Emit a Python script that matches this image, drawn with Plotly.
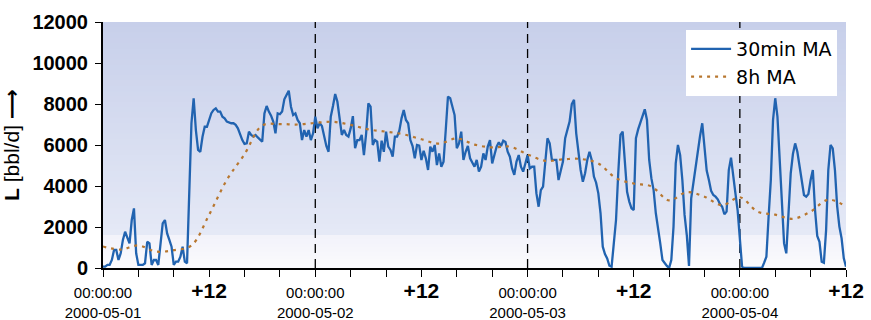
import plotly.graph_objects as go
import pandas as pd

# ---- data ----
start = "2000-05-01 00:00"
# 30 min moving average, sampled every 15 min from 2000-05-01 00:00 to 2000-05-04 12:00
ma30 = [
    65, 65, 150, 150, 390, 880, 880, 390,            # 0h
    715, 1370, 1770, 1530, 1200, 2340, 2910, 715,    # 2h
    150, 150, 150, 230, 1280, 1200, 150, 390,        # 4h
    390, 150, 1200, 2180, 2340, 1690, 1370, 1040,    # 6h
    150, 310, 310, 550, 1040, 310, 230, 3800,        # 8h
    7060, 8280, 6730, 5760, 5670, 6400, 6890, 6890,  # 10h
    7220, 7550, 7710, 7790, 7630, 7630, 7380, 7300,  # 12h
    7140, 7090, 7060, 7060, 6980, 6810, 6490, 6240,  # 14h
    6050, 6080, 6650, 6490, 6410, 6490, 6370, 6280,  # 16h
    6160, 7540, 7900, 7630, 7430, 7140, 6570, 7540,  # 18h
    7500, 7630, 8230, 8440, 8650, 7870, 7460, 7540,  # 20h
    7220, 7060, 6240, 6730, 6410, 6730, 6240, 6570,  # 22h
    7380, 6810, 7060, 6930, 6410, 5950, 5670, 7380,  # 24h
    7900, 8490, 8110, 7380, 6490, 6730, 6490, 6410,  # 26h
    6810, 7410, 5840, 6240, 6240, 6490, 5510, 6570,  # 28h
    8030, 7870, 6000, 6240, 6160, 5190, 6210, 5670,  # 30h
    6650, 5920, 5760, 5430, 6410, 6410, 6700, 7300,  # 32h
    7710, 7220, 7060, 6240, 5950, 5350, 6000, 5970,  # 34h
    5270, 5720, 5350, 4780, 5920, 5670, 6000, 5020,  # 36h
    5590, 4940, 5190, 6730, 8360, 8280, 7870, 7460,  # 38h
    5840, 6080, 6650, 5270, 5670, 5950, 5350, 5100,  # 40h
    4940, 5270, 4700, 4940, 5590, 5270, 5920, 6240,  # 42h
    5100, 5510, 5920, 6130, 5950, 6210, 6150, 5670,  # 44h
    5430, 4860, 4540, 5190, 5510, 4940, 4700, 5100,  # 46h
    5510, 4860, 4940, 4940, 3640, 2990, 3800, 3970,  # 48h
    5270, 6330, 6080, 5270, 5270, 5270, 4290, 4780,  # 50h
    5190, 6330, 6810, 7140, 8000, 8200, 6570, 5510,  # 52h
    4780, 4210, 4620, 5270, 5670, 5270, 4460, 4160,  # 54h
    3640, 2670, 1040, 680, 470, 110, 65, 1200,       # 56h
    2340, 4620, 6490, 6650, 4940, 3720, 3240, 2910,  # 58h
    2830, 6330, 6760, 7060, 7350, 7740, 7220, 5270,  # 60h
    4370, 3800, 2670, 2020, 1200, 390, 230, 100,     # 62h
    0, 390, 2020, 5100, 6000, 5510, 4290, 2590,      # 64h
    1610, 100, 3400, 4210, 4980, 5630, 6440, 7060,   # 66h
    5670, 4750, 4290, 3760, 3560, 3480, 3350, 3120,  # 68h
    2990, 2620, 2750, 4780, 5380, 4620, 3640, 2800,  # 70h
    1370, 65, 0, 0, 0, 0, 0, 0,                      # 72h
    0, 0, 0, 260, 550, 2500, 4290, 7220,             # 74h
    8280, 7380, 5510, 3320, 1200, 715, 2500, 4620,   # 76h
    5560, 6080, 5670, 4910, 4130, 3560, 3480, 3610,  # 78h
    4290, 4780, 2830, 1560, 1280, 310, 260, 1850,    # 80h
    4780, 6000, 5840, 4780, 3020, 2020, 1450, 470,   # 82h
    65,                                              # 84h
]
# 8 h moving average, sampled every 2 h
ma8h = [
    1050, 900, 1100, 800, 870, 1100, 2600, 4300, 5550, 6950, 7020, 7000,
    7080, 7130, 6980, 6760, 6650, 6520, 6280, 6070, 6320, 6020, 5880, 5920,
    5540, 5230, 5300, 5320, 5100, 4380, 4120, 3980, 3300, 3700, 3480, 3060,
    3450, 2750, 2600, 2400, 2750, 3330, 3000,
]
day_labels = ["2000-05-01", "2000-05-02", "2000-05-03", "2000-05-04"]
y_ticks = [0, 2000, 4000, 6000, 8000, 10000, 12000]
y_ticktext = [str(v) for v in y_ticks]

t30 = pd.date_range(start, periods=len(ma30), freq="15min")
t8 = pd.date_range(start, periods=len(ma8h), freq="2h")
t0 = pd.Timestamp(start)
t_end = t0 + pd.Timedelta(hours=84)

# x ticks every 4 h, labels at 00:00 and +12
tickvals, ticktext = [], []
for h in range(0, 85, 4):
    tickvals.append(t0 + pd.Timedelta(hours=h))
    if h % 24 == 0:
        ticktext.append("00:00:00<br>" + day_labels[h // 24])
    elif h % 24 == 12:
        ticktext.append('<span style="font-size:21px"><b>+12</b></span>')
    else:
        ticktext.append("")

fig = go.Figure()
fig.add_trace(go.Scatter(
    x=t30, y=ma30, mode="lines", name="30min MA",
    line=dict(color="#2163b0", width=2.3),
))
fig.add_trace(go.Scatter(
    x=t8, y=ma8h, mode="lines", name="8h MA",
    line=dict(color="#b8772f", width=2.2, dash="3px,5px", shape="spline", smoothing=1.0),
))

# background gradient bands
shapes = []
def lerp(c1, c2, f):
    return "rgb(%d,%d,%d)" % tuple(round(a + (b - a) * f) for a, b in zip(c1, c2))
split = 0.134
n = 40
top_c, mid_c = (199, 207, 234), (229, 233, 246)
for i in range(n):
    y0 = split + (1 - split) * i / n
    y1 = min(1, split + (1 - split) * (i + 1) / n + 0.01)
    shapes.append(dict(type="rect", xref="paper", yref="paper", x0=0, x1=1, y0=y0, y1=y1,
                       fillcolor=lerp(mid_c, top_c, (i + 0.5) / n), line=dict(width=0), layer="below"))
low_top, low_bot = (243, 243, 250), (250, 250, 253)
for i in range(8):
    y0 = split * i / 8
    y1 = split * (i + 1) / 8 + (0.005 if i < 7 else 0)
    shapes.append(dict(type="rect", xref="paper", yref="paper", x0=0, x1=1, y0=y0, y1=y1,
                       fillcolor=lerp(low_bot, low_top, (i + 0.5) / 8), line=dict(width=0), layer="below"))
for d in range(1, 4):
    xd = t0 + pd.Timedelta(days=d)
    shapes.append(dict(type="line", xref="x", yref="paper", x0=xd, x1=xd, y0=0, y1=1,
                       line=dict(color="black", width=1.3, dash="9px,6px"), layer="below"))

fig.update_layout(
    width=871, height=320,
    margin=dict(l=103, r=25, t=22, b=52),
    paper_bgcolor="white", plot_bgcolor="white",
    font=dict(family="Liberation Sans, Arial, sans-serif", color="black"),
    shapes=shapes,
    showlegend=True,
    legend=dict(x=0.988, y=0.967, xanchor="right", yanchor="top",
                bgcolor="white", borderwidth=0, itemwidth=40,
                font=dict(family="DejaVu Sans, sans-serif", size=19),
                tracegroupgap=0),
    xaxis=dict(
        range=[t0, t_end], type="date", automargin=False,
        tickmode="array", tickvals=tickvals, ticktext=ticktext,
        ticks="outside", ticklen=7, tickwidth=1.2, tickcolor="black",
        ticklabelstandoff=3,
        showline=True, linecolor="black", linewidth=2,
        showgrid=False, zeroline=False,
        tickfont=dict(size=15, family="Liberation Sans, Arial, sans-serif"),
    ),
    yaxis=dict(
        range=[0, 12000], tickmode="array", tickvals=y_ticks, ticktext=y_ticktext,
        automargin=False,
        ticks="outside", ticklen=6, tickwidth=1.2, tickcolor="black",
        ticklabelstandoff=3,
        showline=True, linecolor="black", linewidth=2,
        showgrid=False, zeroline=False,
        tickfont=dict(size=20, family="Liberation Sans, Arial, sans-serif", weight="bold"),
        title=dict(text="<b>L</b> [bbl/d] <b>⟶</b>", standoff=7,
                   font=dict(size=21, family="Liberation Sans, DejaVu Sans, sans-serif")),
    ),
)

fig.write_html("out.html")
